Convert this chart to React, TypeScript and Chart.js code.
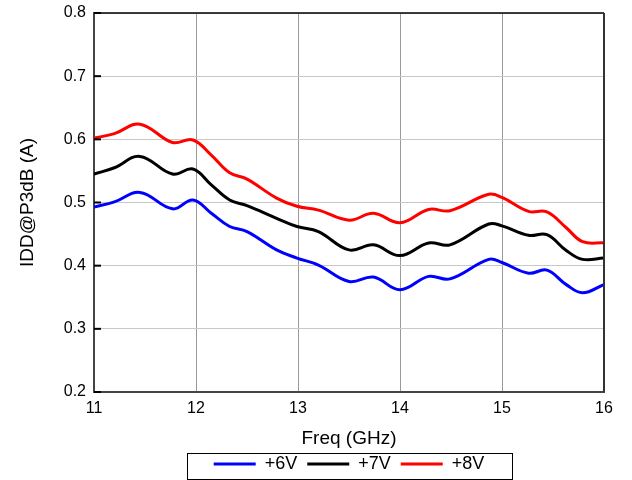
import React, { useEffect, useRef } from "react";
import { Chart, registerables } from "chart.js";

Chart.register(...registerables);

const freq = [11, 11.2, 11.45, 11.77, 11.97, 12.15, 12.33, 12.5, 12.79, 12.99, 13.2, 13.5, 13.74, 14.0, 14.28, 14.49, 14.87, 15.0, 15.26, 15.44, 15.63, 15.79, 16];
const idd6V = [0.493, 0.501, 0.516, 0.49, 0.504, 0.483, 0.462, 0.454, 0.425, 0.412, 0.401, 0.375, 0.382, 0.362, 0.383, 0.379, 0.41, 0.405, 0.388, 0.393, 0.37, 0.357, 0.37];
const idd7V = [0.545, 0.555, 0.573, 0.545, 0.553, 0.528, 0.504, 0.495, 0.475, 0.462, 0.454, 0.425, 0.433, 0.416, 0.436, 0.433, 0.466, 0.463, 0.448, 0.449, 0.424, 0.41, 0.412];
const idd8V = [0.602, 0.609, 0.624, 0.595, 0.599, 0.575, 0.547, 0.537, 0.507, 0.494, 0.488, 0.472, 0.483, 0.468, 0.489, 0.487, 0.513, 0.508, 0.486, 0.485, 0.46, 0.438, 0.436];
const seriesLabels = ["+6V", "+7V", "+8V"];
const seriesColors = ["#0000ff", "#000000", "#ff0000"];

const FONT = "'Liberation Sans', Arial, sans-serif";

const framePlugin = {
  id: "frame",
  afterDatasetsDraw(chart: any) {
    const { ctx, chartArea, scales } = chart;
    const { left, right, top, bottom } = chartArea;
    ctx.save();
    ctx.strokeStyle = "#000";
    ctx.lineWidth = 1.5;
    ctx.beginPath();
    ctx.moveTo(left, top);
    ctx.lineTo(right, top);
    ctx.stroke();
    ctx.strokeStyle = "#333";
    ctx.lineWidth = 2;
    ctx.beginPath();
    ctx.moveTo(right, top);
    ctx.lineTo(right, bottom);
    ctx.stroke();
    ctx.strokeStyle = "#000";
    ctx.lineWidth = 2;
    scales.y.ticks.forEach((t: any) => {
      const yy = scales.y.getPixelForValue(t.value);
      ctx.beginPath();
      ctx.moveTo(left, yy);
      ctx.lineTo(left + 7, yy);
      ctx.stroke();
    });
    ctx.restore();
  },
  afterDraw(chart: any) {
    const lg = chart.legend;
    if (!lg || !lg.legendHitBoxes || !lg.legendHitBoxes.length) return;
    const hb = lg.legendHitBoxes;
    const l = Math.min(...hb.map((h: any) => h.left)) - 27;
    const r = Math.max(...hb.map((h: any) => h.left + h.width)) + 27;
    const t = hb[0].top - 2;
    const { ctx } = chart;
    ctx.save();
    ctx.strokeStyle = "#000";
    ctx.lineWidth = 1;
    ctx.strokeRect(Math.round(l) + 0.5, Math.round(t) + 0.5, Math.round(r - l), 26);
    ctx.restore();
  },
};

export default function App() {
  const ref = useRef<HTMLCanvasElement>(null);
  useEffect(() => {
    document.body.style.margin = "0";
    const series = [idd6V, idd7V, idd8V];
    const chart = new Chart(ref.current!, {
      type: "line",
      data: {
        datasets: series.map((vals, i) => ({
          label: seriesLabels[i],
          data: freq.map((f, j) => ({ x: f, y: vals[j] })),
          borderColor: seriesColors[i],
          backgroundColor: seriesColors[i],
          borderWidth: 3,
          pointRadius: 0,
          tension: 0.4,
          fill: false,
        })),
      },
      options: {
        animation: false,
        responsive: false,
        devicePixelRatio: 1,
        layout: { padding: { top: 13, right: 28, left: 0, bottom: -3 } },
        plugins: {
          tooltip: { enabled: false },
          legend: {
            position: "bottom",
            fullSize: false,
            labels: {
              usePointStyle: true,
              pointStyle: "line",
              pointStyleWidth: 42,
              padding: 10,
              color: "#000",
              font: { family: FONT, size: 18 },
            },
          },
        },
        scales: {
          x: {
            type: "linear",
            min: 11,
            max: 16,
            afterFit: (s: any) => {
              s.height = 53;
              s.paddingLeft = 0;
              s.paddingRight = 0;
            },
            ticks: {
              stepSize: 1,
              padding: 7,
              color: "#000",
              font: { family: FONT, size: 16 },
              maxRotation: 0,
            },
            grid: { color: "#999999", lineWidth: 1, drawTicks: false },
            border: { color: "#444", width: 2 },
            title: {
              display: true,
              text: "Freq (GHz)",
              color: "#000",
              font: { family: FONT, size: 19 },
              padding: { top: 0, bottom: -5 },
            },
          },
          y: {
            type: "linear",
            min: 0.2,
            max: 0.8,
            afterFit: (s: any) => {
              s.width = 94;
              s.paddingTop = 0;
              s.paddingBottom = 0;
            },
            ticks: {
              stepSize: 0.1,
              padding: 8,
              color: "#000",
              font: { family: FONT, size: 16 },
              callback: (v: any) => Number(v).toFixed(1),
            },
            grid: { color: "#c8c8c8", lineWidth: 1, drawTicks: false },
            border: { color: "#444", width: 2 },
            title: {
              display: true,
              text: "IDD@P3dB (A)",
              color: "#000",
              font: { family: FONT, size: 19 },
              padding: { top: 16.6, bottom: 0 },
            },
          },
        },
      },
      plugins: [framePlugin],
    });
    return () => chart.destroy();
  }, []);
  return (
    <div style={{ width: 632, height: 480 }}>
      <canvas ref={ref} width={632} height={480} style={{ display: "block" }} />
    </div>
  );
}
